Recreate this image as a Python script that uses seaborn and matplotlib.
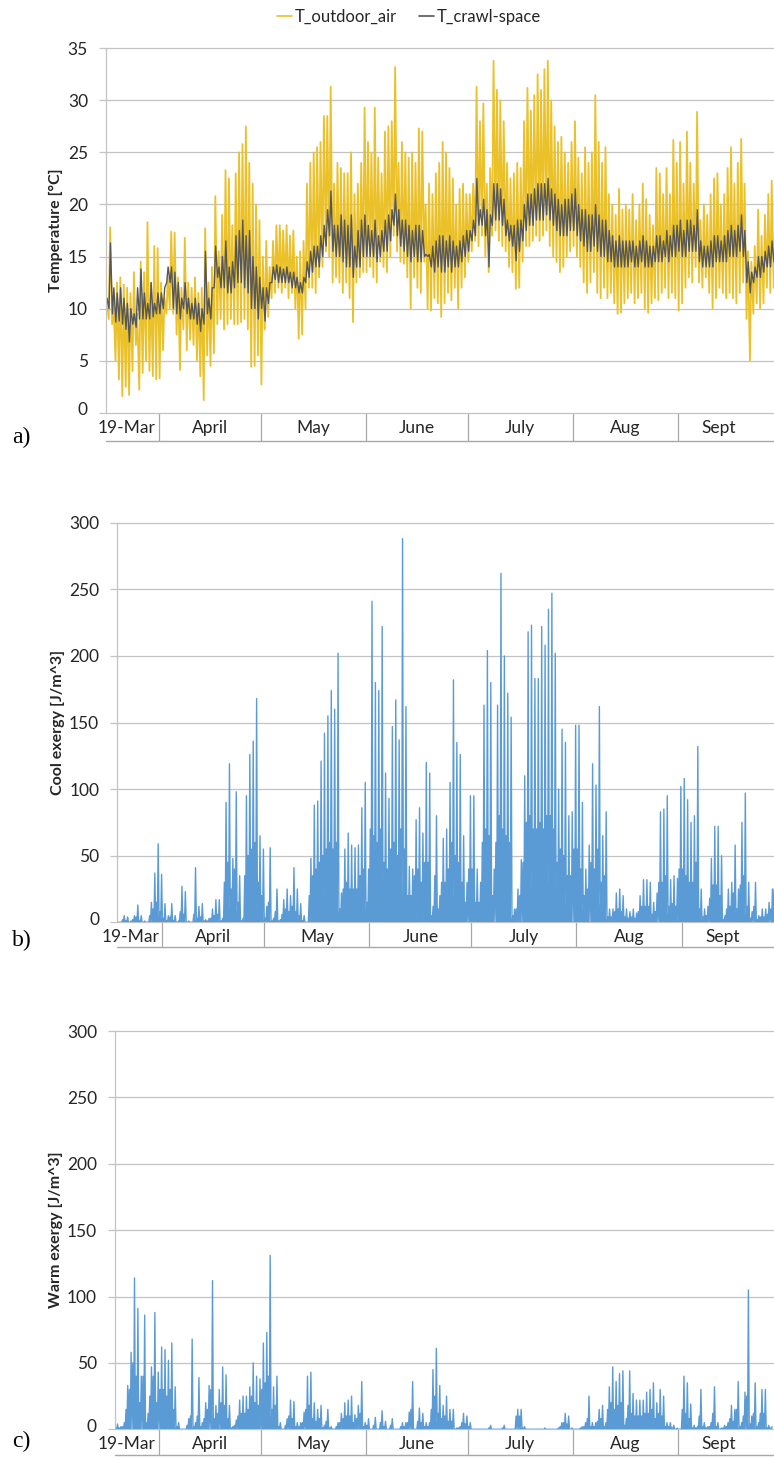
import numpy as np
import pandas as pd
import matplotlib
matplotlib.use("Agg")
import matplotlib.pyplot as plt
import matplotlib.transforms as mtransforms
from matplotlib.lines import Line2D
import seaborn as sns

# ------------------------------------------------------------------
# Daily extremes of the measured temperatures, 16 Mar - 29 Sep 2013
# ------------------------------------------------------------------
temp_first_day = "2013-03-16"

outdoor_max = [
    # March 16-31
    11.0, 17.8, 10.5, 12.5, 13.0, 12.3, 12.0, 11.5, 13.5, 9.5, 14.5, 13.5, 18.3, 12.5, 16.0, 15.8,
    # April
    12.5, 11.0, 13.0, 17.4, 17.3, 13.0, 12.0, 16.8, 12.5, 12.0, 13.0, 11.5, 12.0, 17.7, 12.5,
    14.0, 20.8, 15.5, 19.0, 23.3, 22.5, 18.0, 23.0, 25.0, 25.8, 27.5, 24.0, 22.0, 20.0, 18.5,
    # May
    15.0, 16.5, 14.0, 16.5, 18.0, 18.0, 17.5, 18.0, 17.0, 17.5, 15.0, 15.5, 16.5, 22.0, 24.0, 25.0,
    25.5, 26.0, 28.5, 28.5, 31.3, 22.0, 24.0, 23.5, 23.0, 23.0, 25.0, 21.0, 22.0, 24.0, 29.3,
    # June
    26.0, 25.0, 29.3, 24.5, 23.0, 27.0, 27.5, 28.0, 33.2, 24.0, 26.0, 25.0, 24.5, 25.0, 24.0,
    27.3, 27.0, 20.0, 22.0, 21.0, 23.0, 24.0, 26.0, 25.0, 23.5, 22.5, 20.0, 21.5, 22.0, 21.0,
    # July
    21.0, 22.0, 31.3, 28.0, 29.7, 22.0, 23.5, 33.8, 31.0, 30.0, 28.0, 24.0, 22.5, 23.0, 24.0, 23.5,
    28.0, 31.2, 29.0, 30.5, 32.5, 31.0, 33.0, 33.8, 30.0, 27.5, 26.0, 26.5, 25.0, 24.0, 26.0,
    # August
    28.0, 24.5, 23.0, 25.5, 24.0, 25.0, 30.5, 26.0, 24.0, 25.5, 21.0, 20.0, 19.0, 21.5, 19.5, 20.0,
    19.5, 21.0, 18.5, 20.0, 22.0, 20.5, 19.0, 18.0, 23.5, 23.0, 21.0, 23.5, 21.0, 26.2, 24.0,
    # September 1-29
    26.0, 22.0, 27.0, 24.0, 22.0, 28.9, 18.5, 20.0, 19.0, 21.0, 22.5, 23.0, 20.0, 21.0, 23.5,
    25.5, 22.0, 24.0, 26.3, 22.0, 15.5, 14.5, 16.0, 19.5, 17.0, 19.0, 21.0, 22.3, 18.0,
]

outdoor_min = [
    10.0, 9.0, 8.5, 5.0, 3.2, 1.6, 2.5, 1.7, 4.0, 6.5, 2.2, 3.8, 5.0, 4.0, 3.5, 3.2,
    3.3, 6.0, 9.5, 10.0, 9.5, 7.5, 4.1, 8.0, 6.0, 7.0, 6.5, 5.0, 3.5, 1.2, 5.5,
    4.5, 5.7, 8.5, 9.0, 8.0, 8.5, 9.0, 8.5, 8.5, 8.7, 9.0, 8.0, 4.4, 4.5, 5.5,
    2.7, 8.0, 9.2, 11.0, 11.5, 12.0, 11.5, 12.0, 11.0, 11.5, 10.0, 7.1, 7.5, 10.0, 12.0, 12.0,
    11.5, 13.0, 14.0, 15.5, 15.0, 12.5, 13.0, 12.5, 11.5, 12.5, 11.0, 8.7, 12.5, 13.0, 13.5,
    13.5, 14.0, 13.0, 12.5, 14.5, 14.0, 13.5, 15.0, 17.0, 15.5, 14.5, 14.3, 13.0, 10.0, 13.0,
    12.0, 11.5, 14.5, 10.0, 9.8, 11.0, 10.5, 9.2, 10.5, 11.5, 10.8, 12.0, 10.0, 12.0, 13.0,
    14.5, 15.5, 16.5, 16.0, 17.0, 15.0, 13.5, 17.0, 17.5, 16.5, 16.0, 15.5, 14.0, 13.5, 11.9, 12.0,
    14.5, 16.0, 16.0, 16.5, 17.0, 16.5, 17.0, 17.5, 16.0, 15.0, 14.5, 13.5, 14.0, 15.0, 15.5,
    16.0, 15.0, 14.0, 12.5, 11.5, 12.5, 13.5, 11.5, 11.0, 12.0, 11.0, 11.5, 10.5, 9.5, 9.6, 10.5,
    11.0, 11.5, 10.5, 11.0, 11.5, 10.0, 9.6, 10.5, 11.0, 10.8, 11.5, 12.0, 11.0, 11.5, 11.0,
    9.8, 10.5, 12.0, 13.0, 12.5, 14.0, 12.5, 12.0, 13.0, 11.5, 10.0, 11.0, 12.0, 11.5, 11.0,
    11.5, 11.0, 10.5, 11.5, 12.5, 9.0, 5.0, 9.5, 10.5, 10.0, 10.5, 12.0, 11.5, 12.0,
]

crawl_max = [
    11.0, 16.3, 12.0, 11.5, 12.0, 11.0, 10.5, 10.0, 9.5, 12.0, 13.8, 11.5, 10.5, 12.5, 10.5, 11.5,
    11.5, 12.0, 14.0, 14.0, 13.5, 12.5, 11.0, 12.5, 11.0, 10.5, 11.0, 10.5, 10.0, 15.5, 11.0,
    12.0, 16.0, 14.0, 15.0, 16.5, 14.0, 14.5, 17.0, 17.5, 18.5, 17.0, 17.5, 15.0, 14.0, 13.0,
    12.0, 12.0, 12.5, 14.0, 14.2, 14.0, 13.8, 14.0, 13.5, 13.5, 13.0, 12.5, 13.0, 14.5, 15.5, 16.0,
    16.0, 17.0, 18.0, 19.5, 21.3, 18.0, 18.0, 19.0, 18.5, 18.0, 19.0, 16.0, 17.5, 18.5, 19.0,
    18.0, 17.5, 18.5, 17.0, 17.5, 18.5, 19.0, 19.5, 21.0, 19.5, 18.5, 18.5, 18.0, 17.5, 18.0,
    18.0, 17.5, 15.2, 15.2, 16.0, 16.5, 17.0, 17.0, 16.5, 17.0, 16.5, 16.0, 16.5, 17.0, 17.5,
    17.5, 18.5, 22.5, 19.5, 20.5, 19.5, 19.0, 22.0, 22.0, 21.5, 20.5, 18.5, 18.0, 18.0, 18.5, 18.5,
    20.0, 21.0, 21.0, 21.5, 22.0, 22.0, 22.0, 22.5, 21.5, 21.0, 20.5, 20.0, 20.5, 20.5, 21.0,
    21.5, 20.0, 19.5, 19.5, 19.0, 19.0, 20.0, 19.0, 18.5, 18.5, 17.5, 17.0, 16.5, 17.0, 16.5, 16.5,
    16.5, 16.5, 16.0, 16.5, 17.0, 16.5, 16.0, 16.0, 17.0, 17.0, 16.5, 17.5, 17.0, 18.0, 18.0,
    18.5, 17.5, 18.5, 18.5, 18.0, 19.5, 16.5, 16.0, 16.0, 16.5, 17.0, 17.0, 16.5, 17.0, 17.5,
    18.0, 17.5, 18.0, 19.0, 17.5, 14.5, 13.5, 14.0, 15.0, 15.0, 15.5, 16.0, 16.5, 16.0,
]

crawl_min = [
    10.0, 10.0, 9.5, 8.7, 8.8, 8.5, 8.0, 6.8, 8.5, 8.2, 9.0, 9.0, 9.0, 9.0, 9.2, 9.5,
    9.5, 10.0, 12.5, 12.5, 10.0, 9.5, 9.0, 10.0, 9.5, 9.0, 9.0, 8.5, 7.8, 8.5, 9.5,
    9.0, 12.0, 13.0, 12.0, 12.0, 11.5, 11.5, 12.0, 12.5, 12.5, 12.0, 11.5, 10.0, 10.0, 9.0,
    10.0, 8.8, 10.5, 12.5, 12.8, 12.5, 12.5, 12.5, 12.5, 12.0, 12.0, 11.5, 11.5, 12.5, 13.0, 13.5,
    14.0, 14.0, 15.0, 16.0, 17.0, 15.5, 15.0, 15.0, 14.5, 14.0, 14.0, 13.0, 14.0, 14.0, 15.0,
    15.0, 15.0, 15.0, 14.5, 15.0, 15.5, 15.5, 16.5, 18.0, 17.0, 16.0, 15.5, 15.0, 14.5, 15.0,
    14.5, 14.5, 15.0, 15.0, 14.0, 13.5, 14.0, 13.5, 13.5, 14.0, 13.5, 14.0, 14.0, 14.5, 15.0,
    15.5, 16.5, 17.0, 18.0, 18.0, 17.0, 14.0, 18.0, 18.5, 18.5, 18.0, 17.0, 16.5, 16.0, 14.6, 15.5,
    16.5, 17.5, 18.0, 18.0, 18.5, 18.5, 18.5, 19.0, 18.5, 18.0, 17.5, 17.0, 17.0, 17.0, 17.5,
    17.5, 17.0, 16.5, 16.0, 15.5, 15.5, 16.0, 15.5, 15.0, 15.0, 14.5, 14.5, 14.0, 14.0, 14.0, 14.0,
    14.0, 14.5, 14.0, 14.0, 14.5, 14.0, 14.0, 14.0, 14.5, 14.5, 14.5, 15.0, 14.5, 15.0, 15.0,
    15.5, 15.0, 15.0, 15.5, 15.5, 15.5, 14.5, 14.0, 14.0, 14.0, 14.0, 14.5, 14.5, 14.5, 14.5,
    15.0, 15.0, 15.0, 15.5, 15.0, 12.5, 11.5, 12.5, 13.0, 13.0, 13.5, 14.0, 14.0, 14.5,
]

# ------------------------------------------------------------------
# Daily exergy spikes, 18 Mar - 28 Sep 2013 (highest and second spike)
# ------------------------------------------------------------------
exergy_first_day = "2013-03-18"

cool_peak = [
    0, 0, 5, 4, 1, 5, 13, 5, 1, 0, 15, 37, 59, 36,
    14, 5, 14, 5, 1, 27, 23, 1, 0, 41, 12, 14, 2, 3, 10, 17, 17, 3, 90, 119, 48, 98, 35, 3,
    95, 126, 136, 168, 65, 55,
    12, 56, 3, 25, 2, 17, 25, 20, 41, 25, 14, 5, 0, 48, 88, 91, 121, 142, 155, 174, 160, 202,
    22, 55, 67, 58, 56, 58, 86, 105, 40,
    241, 180, 174, 222, 112, 93, 147, 167, 137, 288, 162, 42, 40, 77, 86, 67, 120, 112, 12, 80,
    20, 63, 70, 105, 182, 135, 126, 65, 30, 95,
    95, 40, 30, 163, 204, 180, 40, 163, 262, 200, 172, 154, 10, 25, 47, 110, 218, 223, 183, 183,
    222, 208, 235, 247, 202, 100, 145, 135, 80, 83, 148,
    148, 90, 40, 58, 119, 103, 162, 65, 83, 10, 10, 22, 25, 20, 10, 8, 10, 7, 20, 32,
    32, 30, 15, 22, 83, 85, 95, 32, 35, 33, 102,
    108, 92, 75, 80, 132, 25, 10, 12, 48, 72, 72, 50, 5, 25, 30, 58, 25, 75, 97, 30,
    8, 30, 5, 10, 10, 15, 25, 62,
]

cool_second = [
    0, 0, 2, 1, 0, 2, 4, 1, 0, 0, 5, 10, 15, 8,
    3, 1, 4, 1, 0, 8, 6, 0, 0, 6, 3, 4, 1, 1, 3, 5, 6, 1, 30, 45, 25, 40, 15, 1,
    35, 50, 55, 60, 30, 20,
    3, 15, 1, 8, 1, 6, 10, 8, 12, 8, 5, 1, 0, 20, 35, 40, 45, 50, 55, 60, 55, 60,
    10, 25, 30, 25, 25, 25, 35, 40, 15,
    70, 65, 60, 70, 45, 40, 55, 60, 50, 70, 55, 20, 20, 35, 40, 30, 45, 45, 5, 35,
    10, 30, 30, 40, 60, 50, 45, 30, 15, 40,
    40, 15, 15, 60, 70, 65, 20, 60, 80, 70, 65, 60, 5, 10, 20, 45, 75, 80, 70, 70,
    75, 70, 80, 80, 70, 45, 55, 50, 35, 35, 55,
    55, 40, 20, 25, 45, 40, 55, 30, 35, 4, 4, 8, 10, 8, 4, 3, 4, 3, 8, 12,
    12, 12, 6, 8, 30, 30, 35, 12, 14, 12, 40,
    40, 35, 30, 30, 45, 10, 4, 5, 18, 28, 28, 20, 2, 10, 12, 22, 10, 28, 35, 12,
    3, 12, 2, 4, 4, 6, 10, 25,
]

warm_peak = [
    0, 4, 2, 5, 33, 58, 114, 91, 40, 86, 12, 47, 88, 43,
    62, 60, 52, 65, 32, 5, 0, 0, 8, 68, 5, 39, 5, 20, 33, 112, 18, 30, 47, 41, 18, 2, 7, 22,
    25, 25, 32, 50, 40, 38,
    65, 73, 131, 32, 40, 5, 0, 8, 22, 21, 5, 5, 13, 40, 43, 20, 15, 18, 3, 15, 2, 0, 5, 12,
    20, 22, 25, 11, 18, 36, 5,
    8, 0, 9, 0, 14, 6, 0, 8, 0, 0, 5, 5, 13, 36, 0, 16, 12, 5, 5, 45, 61, 33, 18, 25, 15, 15,
    1, 2, 12, 10,
    5, 0, 0, 0, 0, 0, 3, 0, 0, 0, 3, 0, 0, 0, 15, 15, 2, 0, 0, 0, 0, 0, 1, 0, 0, 0, 1, 5, 12,
    10, 1,
    0, 0, 2, 5, 25, 5, 5, 15, 18, 5, 32, 47, 36, 42, 44, 8, 44, 27, 22, 22, 22, 28, 30, 35,
    20, 30, 25, 5, 5, 3, 1,
    0, 40, 35, 19, 3, 2, 30, 5, 2, 5, 32, 5, 1, 3, 5, 18, 15, 36, 5, 28, 105, 10, 35, 5, 30,
    30, 3, 2,
]

warm_second = [
    0, 1, 1, 2, 15, 30, 50, 40, 20, 40, 5, 25, 40, 20,
    30, 30, 25, 30, 15, 2, 0, 0, 3, 10, 2, 10, 2, 8, 15, 30, 8, 12, 20, 18, 8, 1, 3, 10,
    12, 12, 15, 25, 20, 18,
    30, 35, 40, 15, 18, 2, 0, 3, 10, 8, 2, 2, 5, 15, 18, 8, 6, 8, 1, 6, 1, 0, 2, 5,
    8, 10, 10, 5, 8, 12, 2,
    3, 0, 3, 0, 5, 2, 0, 3, 0, 0, 2, 2, 5, 15, 0, 6, 5, 2, 2, 15, 25, 12, 8, 10, 6, 6,
    0, 1, 5, 4,
    2, 0, 0, 0, 0, 0, 1, 0, 0, 0, 1, 0, 0, 0, 10, 10, 1, 0, 0, 0, 0, 0, 0, 0, 0, 0, 0, 2, 5,
    4, 0,
    0, 0, 1, 2, 8, 2, 2, 6, 8, 2, 15, 20, 15, 18, 20, 3, 18, 12, 10, 10, 10, 12, 12, 15,
    8, 12, 10, 2, 2, 1, 0,
    0, 15, 12, 8, 1, 1, 10, 2, 1, 2, 12, 2, 0, 1, 2, 8, 6, 15, 2, 10, 25, 4, 12, 2, 12,
    12, 1, 1,
]

legend_labels = ["T_outdoor_air", "T_crawl-space"]
month_labels = ["19-Mar", "April", "May", "June", "July", "Aug", "Sept"]
month_label_dates = ["2013-03-22 12:00", "2013-04-16", "2013-05-16 12:00", "2013-06-16",
                     "2013-07-16 12:00", "2013-08-16 12:00", "2013-09-13"]
month_starts = ["2013-04-01", "2013-05-01", "2013-06-01", "2013-07-01", "2013-08-01", "2013-09-01"]
panel_tags = ["a)", "b)", "c)"]


def doy(s):
    t = pd.Timestamp(s)
    return t.dayofyear + (t.hour + t.minute / 60) / 24


# ------------------------------------------------------------------
# Build the time axes (day of year, fractional)
# ------------------------------------------------------------------
temp_days = doy(temp_first_day) + np.arange(len(outdoor_max))
out_x = np.column_stack([temp_days + 5 / 24, temp_days + 15 / 24]).ravel()
out_y = np.column_stack([outdoor_min, outdoor_max]).ravel()
crawl_x = np.column_stack([temp_days + 7 / 24, temp_days + 17 / 24]).ravel()
crawl_y = np.column_stack([crawl_min, crawl_max]).ravel()

ex_days = doy(exergy_first_day) + np.arange(len(cool_peak))


def spikes(peak, second):
    zeros = np.zeros(len(peak))
    x = np.column_stack([ex_days, ex_days + 0.25, ex_days + 0.5, ex_days + 0.75]).ravel()
    y = np.column_stack([zeros, second, zeros, peak]).ravel()
    return x, y


cool_x, cool_y = spikes(cool_peak, cool_second)
warm_x, warm_y = spikes(warm_peak, warm_second)

# ------------------------------------------------------------------
# Styling
# ------------------------------------------------------------------
sns.set_theme(style="white")
plt.rcParams["font.family"] = ["Lato", "DejaVu Sans"]

YELLOW = "#EBC12A"
DARK = "#575757"
BLUE = "#5B9BD5"
GRID = "#C3C3C3"
TEXT = "#262626"

W, H = 774, 1461
fig = plt.figure(figsize=(W / 100, H / 100), dpi=100)


def add_axes(left, top, right, bottom):
    return fig.add_axes([left / W, 1 - bottom / H, (right - left) / W, (bottom - top) / H])


ax_a = add_axes(106, 48.3, 774, 412.7)
ax_b = add_axes(117.3, 522.7, 774, 922.3)
ax_c = add_axes(115, 1031, 774, 1429.3)

sns.lineplot(x=out_x, y=out_y, ax=ax_a, color=YELLOW, linewidth=1.3,
             estimator=None, sort=False)
sns.lineplot(x=crawl_x, y=crawl_y, ax=ax_a, color=DARK, linewidth=1.0,
             estimator=None, sort=False)
sns.lineplot(x=cool_x, y=cool_y, ax=ax_b, color=BLUE, linewidth=1.0,
             estimator=None, sort=False)
sns.lineplot(x=warm_x, y=warm_y, ax=ax_c, color=BLUE, linewidth=1.0,
             estimator=None, sort=False)


def style_axis(ax, xlim, ylim, yticks, ylabel, label_x, band_px):
    ax.set_xlim(*xlim)
    ax.set_ylim(*ylim)
    ax.set_yticks(yticks)
    ax.yaxis.grid(True, color=GRID, linewidth=0.9)
    ax.xaxis.grid(False)
    for gl in ax.get_ygridlines():
        gl.set_clip_on(False)
    for side in ("top", "right", "bottom"):
        ax.spines[side].set_visible(False)
    ax.spines["left"].set_color(GRID)
    ax.spines["left"].set_linewidth(0.9)
    ax.tick_params(axis="y", which="major", left=True, length=5, width=0.9,
                   color=GRID, labelsize=12.5, labelcolor=TEXT, pad=8)
    # month separators as long major ticks, names as minor tick labels
    ax.set_xticks([doy(s) for s in month_starts])
    ax.set_xticklabels([])
    ax.set_xticks([doy(s) for s in month_label_dates], minor=True)
    ax.set_xticklabels(month_labels, minor=True)
    ax.tick_params(axis="x", which="major", bottom=True, direction="out",
                   length=band_px * 0.72, width=0.9, color="#A8A8A8")
    ax.tick_params(axis="x", which="minor", bottom=True, length=0,
                   labelsize=12.5, labelcolor=TEXT, pad=5)
    trans = ax.transAxes + mtransforms.ScaledTranslation(0, -band_px / 100, fig.dpi_scale_trans)
    ax.add_line(Line2D([0, 1], [0, 0], transform=trans, color="#A8A8A8",
                       linewidth=1.0, clip_on=False))
    ax.set_xlabel("")
    ax.set_ylabel(ylabel, fontsize=11.5, fontweight="bold", color=TEXT)
    ax.yaxis.set_label_coords(label_x, 0.5)
    # the zero label sits slightly raised, clear of the month names
    zero_lbl = ax.yaxis.get_major_ticks()[0].label1
    zero_lbl.set_transform(zero_lbl.get_transform()
                           + mtransforms.ScaledTranslation(0, 4 / 100, fig.dpi_scale_trans))


style_axis(ax_a, (75.4, 272.3), (0, 35), np.arange(0, 36, 5), "Temperature [°C]", -0.064, 28)
style_axis(ax_b, (77.7, 271.2), (0, 300), np.arange(0, 301, 50), "Cool exergy [J/m^3]", -0.080, 25)
style_axis(ax_c, (78.0, 272.3), (0, 300), np.arange(0, 301, 50), "Warm exergy [J/m^3]", -0.079, 26)

# legend above the temperature panel
handles = [Line2D([], [], color=YELLOW, linewidth=1.2), Line2D([], [], color=DARK, linewidth=1.2)]
fig.legend(handles, legend_labels, loc="center", bbox_to_anchor=(409 / W, 1 - 17 / H),
           ncol=2, frameon=False, fontsize=12, handlelength=0.9, handletextpad=0.15,
           columnspacing=1.3, labelcolor=TEXT)

# panel tags
for tag, yc in zip(panel_tags, (437, 940, 1441)):
    fig.text(12 / W, 1 - yc / H, tag, fontsize=17, family=["Liberation Serif", "DejaVu Serif"],
             color="black", va="center", ha="left")

fig.savefig("out.png", dpi=100)
